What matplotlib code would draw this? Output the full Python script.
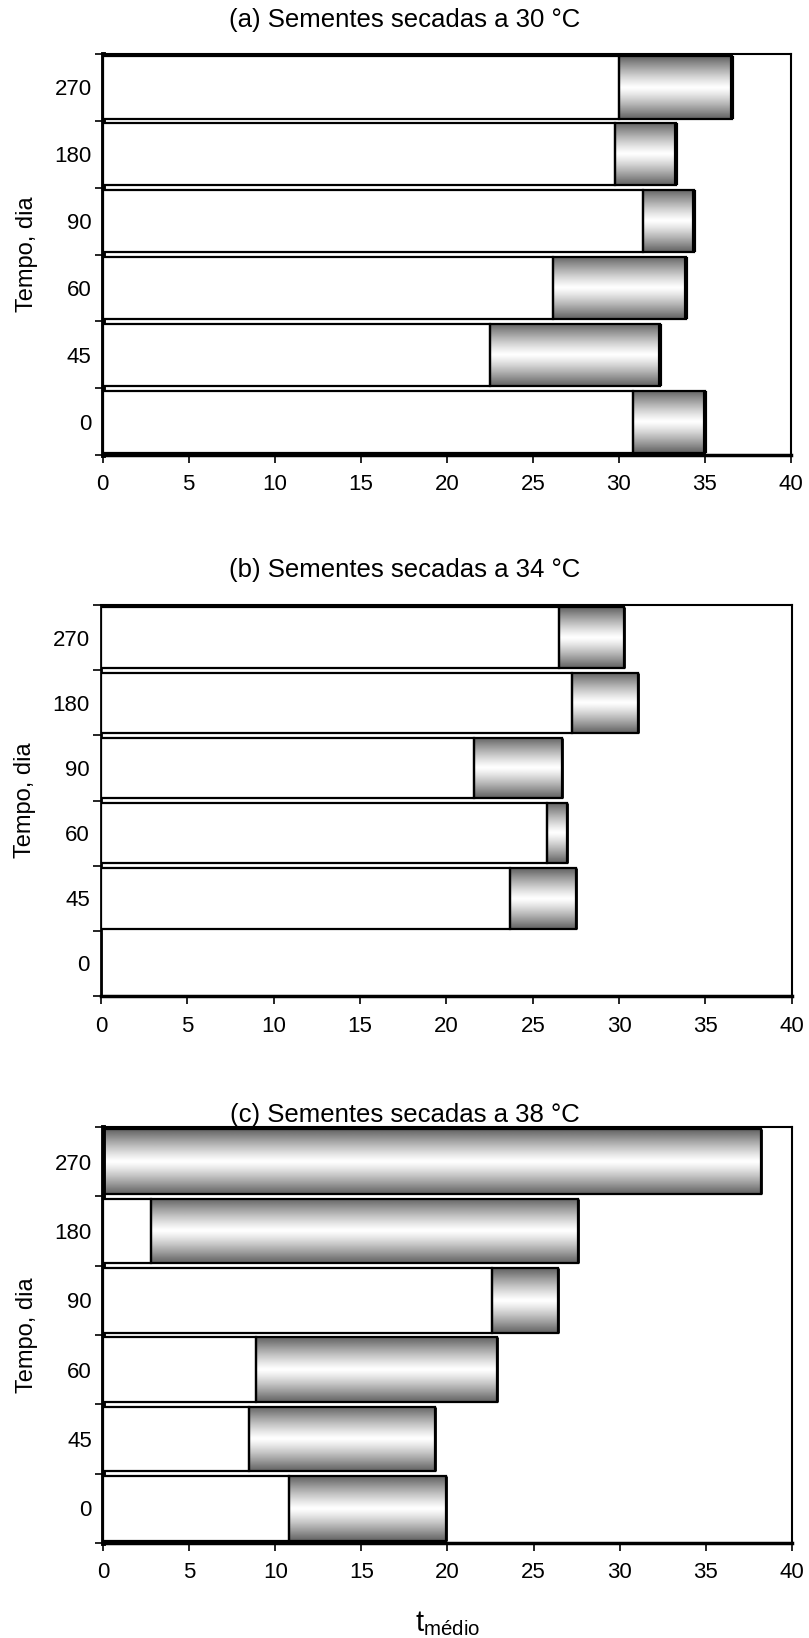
import numpy as np
import matplotlib.pyplot as plt

plt.rcParams["font.family"] = "Liberation Sans"
plt.rcParams.update({'font.size': 16})

dias = ['0', '45', '60', '90', '180', '270']

# inicio e fim de cada barra (t medio), de 0 dia ate 270 dias
ini_30 = [30.8, 22.5, 26.2, 31.4, 29.8, 30.0]
fim_30 = [35.0, 32.4, 33.9, 34.4, 33.3, 36.6]

ini_34 = [0.0, 23.7, 25.8, 21.6, 27.3, 26.5]
fim_34 = [0.0, 27.5, 27.0, 26.7, 31.1, 30.3]

ini_38 = [10.8, 8.5, 8.9, 22.6, 2.8, 0.0]
fim_38 = [19.9, 19.3, 22.9, 26.4, 27.6, 38.2]

titulos = ['(a) Sementes secadas a 30 °C',
           '(b) Sementes secadas a 34 °C',
           '(c) Sementes secadas a 38 °C']

fig = plt.figure(figsize=(8.09, 16.38), dpi=100)

# [left, bottom, width, height] of each panel and title height
caixas = [[0.127, 0.7222, 0.8505, 0.2448],
          [0.1248, 0.3919, 0.854, 0.2387],
          [0.1273, 0.0580, 0.8517, 0.2540]]
y_tit = [0.9878, 0.652, 0.3193]
esq_lw = [3.5, 2.0, 3.5]
fim_lw = [3.0, 2.0, 2.0]

# vertical shading of the gray segment: dark at the edges, white in the middle
perfil = np.abs(np.linspace(-1, 1, 128))[:, None]
sombra = 1 - 0.62 * perfil ** 1.2

ypos = np.arange(len(dias))
h = 0.93

for k, (ini, fim) in enumerate([(ini_30, fim_30), (ini_34, fim_34), (ini_38, fim_38)]):
    ax = fig.add_axes(caixas[k])
    ini = np.array(ini)
    fim = np.array(fim)

    ax.barh(ypos, ini, height=h, color='white', edgecolor='black', linewidth=1.6, zorder=3)
    cinza = ax.barh(ypos, fim - ini, left=ini, height=h, facecolor='none',
                    edgecolor='black', linewidth=1.6, zorder=4)
    for r in cinza:
        if r.get_width() <= 0:
            continue
        im = ax.imshow(sombra, cmap='gray', vmin=0, vmax=1, aspect='auto',
                       interpolation='bilinear', zorder=2,
                       extent=[r.get_x(), r.get_x() + r.get_width(),
                               r.get_y(), r.get_y() + r.get_height()])
        im.set_clip_path(r)
    # heavy end line on each bar
    ax.vlines(fim[fim > 0], ypos[fim > 0] - h / 2, ypos[fim > 0] + h / 2,
              color='black', linewidth=fim_lw[k], zorder=5)

    ax.set_xlim(0, 40)
    ax.set_ylim(-0.5, len(dias) - 0.5)
    ax.set_xticks(np.arange(0, 41, 5))
    ax.tick_params(axis='x', direction='out', length=6, width=1.2, pad=8)

    # tick marks between categories, labels at the centers
    ax.set_yticks(np.arange(-0.5, len(dias), 1))
    ax.set_yticklabels([])
    ax.set_yticks(ypos, minor=True)
    ax.set_yticklabels(dias, minor=True)
    ax.tick_params(axis='y', which='major', direction='out', length=6, width=1.2)
    ax.tick_params(axis='y', which='minor', length=0, pad=8)

    for s in ax.spines.values():
        s.set_linewidth(1.5)
    ax.spines['left'].set_linewidth(esq_lw[k])
    ax.spines['bottom'].set_linewidth(2.5)

    ax.set_ylabel('Tempo, dia', fontsize=17, labelpad=12)
    fig.text(0.5, y_tit[k], titulos[k], ha='center', va='center', fontsize=18.5)

fig.text(0.553, 0.0085, r'$\mathregular{t_{médio}}$', ha='center', va='center', fontsize=21)

plt.savefig('out.png', dpi=100)
